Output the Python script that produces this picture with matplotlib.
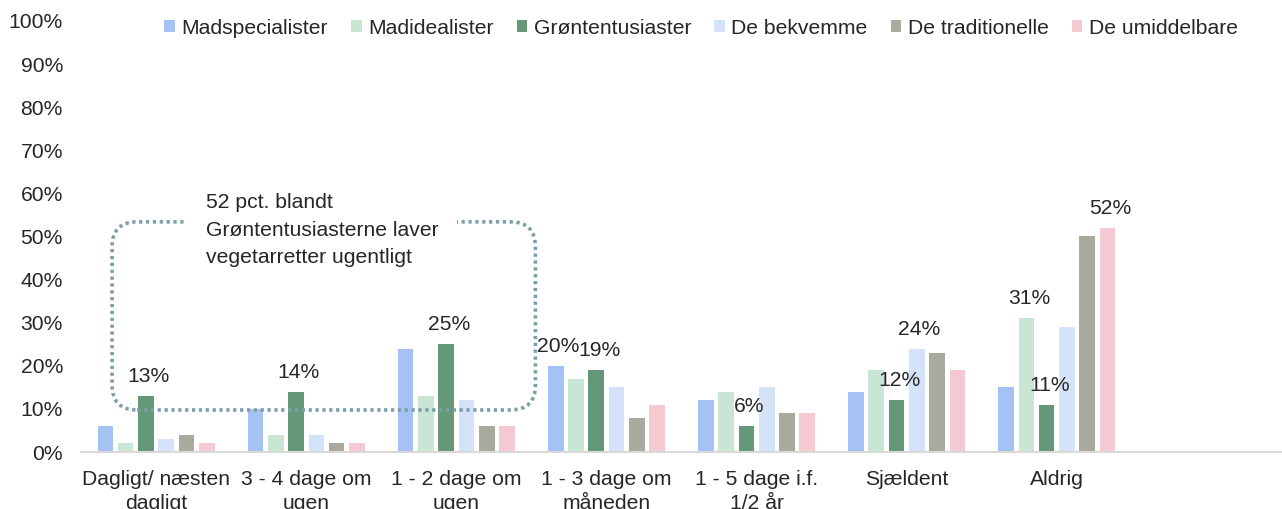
import matplotlib
matplotlib.use("Agg")
import matplotlib.pyplot as plt
from matplotlib.patches import FancyBboxPatch, Patch
import numpy as np

plt.rcParams['font.family'] = ['Liberation Sans', 'DejaVu Sans']

categories = ["Dagligt/ næsten\ndagligt", "3 - 4 dage om\nugen", "1 - 2 dage om\nugen",
              "1 - 3 dage om\nmåneden", "1 - 5 dage i.f.\n1/2 år", "Sjældent", "Aldrig", ""]
series_names = ["Madspecialister", "Madidealister", "Grøntentusiaster",
                "De bekvemme", "De traditionelle", "De umiddelbare"]
madspecialister = [6, 10, 24, 20, 12, 14, 15]
madidealister = [2, 4, 13, 17, 14, 19, 31]
groententusiaster = [13, 14, 25, 19, 6, 12, 11]
de_bekvemme = [3, 4, 12, 15, 15, 24, 29]
de_traditionelle = [4, 2, 6, 8, 9, 23, 50]
de_umiddelbare = [2, 2, 6, 11, 9, 19, 52]
series = [madspecialister, madidealister, groententusiaster,
          de_bekvemme, de_traditionelle, de_umiddelbare]
colors = ["#a4c2f4", "#c9e6d4", "#649878", "#d4e3f9", "#a9a99e", "#f5c9d1"]

# which values get a data label (series index, category index)
labelled = [(2, 0), (2, 1), (2, 2), (0, 3), (2, 3), (2, 4), (2, 5), (3, 5),
            (1, 6), (2, 6), (5, 6)]

yticks = list(range(0, 101, 10))
ytick_labels = [f"{v}%" for v in yticks]

note_text = "52 pct. blandt\nGrøntentusiasterne laver\nvegetarretter ugentligt"

FS = 15.2
W, H = 1282, 509
fig = plt.figure(figsize=(W / 100, H / 100), dpi=100)
ax = fig.add_axes([81 / W, 1 - 452 / H, 1 - 81 / W, (452 - 21) / H])

n_cat = len(categories)
x = np.arange(n_cat)
step = 0.135
bw = 0.104
for i, (vals, col) in enumerate(zip(series, colors)):
    offs = (i - 2.5) * step
    ax.bar(x[:len(vals)] + offs, vals, width=bw, color=col, zorder=2)

for si, ci in labelled:
    offs = (si - 2.5) * step
    v = series[si][ci]
    ax.annotate(f"{v}%", (ci + offs, v), xytext=(2, 14), textcoords="offset points",
                ha="center", va="center", fontsize=FS, color="#262626", zorder=5)

ax.set_xlim(-0.5, n_cat - 0.5)
ax.set_ylim(0, 100)
ax.set_yticks(yticks)
ax.set_yticklabels(ytick_labels, fontsize=FS, color="#262626")
ax.set_xticks(x)
ax.set_xticklabels(categories, fontsize=FS, color="#262626", linespacing=1.3)
ax.tick_params(axis="both", length=0)
ax.tick_params(axis="y", pad=13)
ax.tick_params(axis="x", pad=13)
for s in ["top", "right", "left"]:
    ax.spines[s].set_visible(False)
ax.spines["bottom"].set_color("#d9d9d9")
ax.spines["bottom"].set_linewidth(1.5)

# rounded dotted annotation box
px_x = 150.0  # pixels per x unit
px_y = 4.31   # pixels per y unit
r = 25 / px_x
box = FancyBboxPatch((-0.293, 9.75), 2.527 + 0.293, 53.4 - 9.75,
                     boxstyle=f"round,pad=0,rounding_size={r}",
                     mutation_aspect=px_x / px_y,
                     fill=False, edgecolor="#7b9fa9", linewidth=2.6,
                     linestyle=(0, (0.9, 1.0)), zorder=3, clip_on=False)
ax.add_patch(box)
ax.text(0.33, 60.0, note_text, fontsize=FS, color="#262626", va="top", ha="left",
        linespacing=1.55, zorder=4,
        bbox=dict(boxstyle="square,pad=0.9", facecolor="white", edgecolor="none"))

handles = [Patch(facecolor=c, edgecolor="none") for c in colors]
fig.legend(handles, series_names, loc="center", bbox_to_anchor=(701 / W, 1 - 28 / H),
           ncol=6, frameon=False, fontsize=FS, handlelength=0.5, handleheight=0.5,
           handletextpad=0.3, columnspacing=1.1, labelcolor="#262626")

fig.savefig("out.png", dpi=100)
